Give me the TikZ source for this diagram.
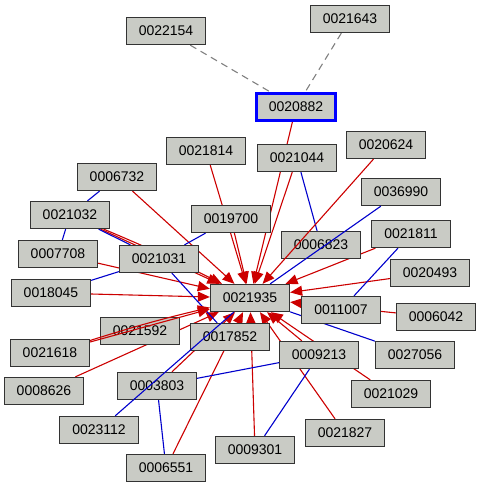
\documentclass[tikz,border=0pt]{standalone}
\usepackage{fontspec}
\setmainfont{Liberation Sans}
\usetikzlibrary{arrows.meta,backgrounds}
\definecolor{nodegray}{HTML}{C9CBC5}
\definecolor{edgered}{HTML}{CC0000}
\definecolor{edgeblue}{HTML}{0000CC}
\definecolor{hiblue}{HTML}{0000FF}

\begin{document}
\begin{tikzpicture}[x=1pt, y=-1pt,
  every node/.style={font=\fontsize{14}{16}\selectfont},
  box/.style={rectangle, draw=black!80, line width=1.3pt, fill=nodegray,
              minimum width=79pt, minimum height=27pt, inner sep=0pt},
  focus/.style={box, draw=hiblue, line width=2.4pt},
  arr/.style={-{Triangle[length=12pt,width=10pt]}, line width=1.1pt, edgered},
  link/.style={line width=1.1pt, edgeblue},
  faint/.style={dash pattern=on 7pt off 5pt, line width=1.1pt, gray},
]
\useasboundingbox (0,0) rectangle (481,489);

% nodes
\node[box] (n22154) at (166,31) {0022154};
\node[box] (n21643) at (350,19) {0021643};
\node[focus] (n20882) at (296,107) {0020882};
\node[box] (n21814) at (206,151) {0021814};
\node[box] (n21044) at (297,158) {0021044};
\node[box] (n20624) at (386,145) {0020624};
\node[box] (n06732) at (117,177) {0006732};
\node[box] (n36990) at (401,192) {0036990};
\node[box] (n21032) at (70,215) {0021032};
\node[box] (n19700) at (231,219) {0019700};
\node[box] (n06823) at (321,245) {0006823};
\node[box] (n21811) at (411,234) {0021811};
\node[box] (n07708) at (58,254) {0007708};
\node[box] (n21031) at (159,259) {0021031};
\node[box] (n20493) at (430,273) {0020493};
\node[box] (n18045) at (51,293) {0018045};
\node[box] (n21935) at (250,298) {0021935};
\node[box] (n11007) at (341,310) {0011007};
\node[box] (n06042) at (436,317) {0006042};
\node[box] (n21592) at (140,331) {0021592};
\node[box] (n17852) at (230,337) {0017852};
\node[box] (n21618) at (50,353) {0021618};
\node[box] (n09213) at (319,355) {0009213};
\node[box] (n27056) at (415,355) {0027056};
\node[box] (n08626) at (44,391) {0008626};
\node[box] (n03803) at (157,386) {0003803};
\node[box] (n21029) at (391,394) {0021029};
\node[box] (n23112) at (99,430) {0023112};
\node[box] (n21827) at (345,433) {0021827};
\node[box] (n09301) at (255,450) {0009301};
\node[box] (n06551) at (166,468) {0006551};

% edges under the boxes
\begin{scope}[on background layer]
\draw[faint] (n22154) -- (n20882);
\draw[faint] (n21643) -- (n20882);

\draw[arr] (n20882) -- (n21935);
\draw[arr] (n21814) -- (n21935);
\draw[arr] (n21044) -- (n21935);
\draw[arr] (n06732) -- (n21935);
\draw[arr] (n21032) -- (n21935);
\draw[arr] (n21032) to[bend left=2] (n21935);
\draw[arr] (n19700) -- (n21935);
\draw[arr] (n07708) -- (n21935);
\draw[arr] (n18045) -- (n21935);
\draw[arr] (n21811) -- (n21935);
\draw[arr] (n20493) -- (n21935);
\draw[arr] (n06042) -- (n21935);
\draw[arr] (n08626) -- (n21935);
\draw[arr] (n03803) -- (n21935);
\draw[arr] (n06551) -- (n21935);
\draw[arr] (n09301) -- (n21935);
\draw[arr] (n09213) -- (n21935);
\draw[arr] (n21029) -- (n21935);
\draw[arr] (n21827) -- (n21935);

\draw[link] (n21044) -- (n06823);
\draw[link] (n21811) -- (n11007);
\draw[link] (n06732) -- (n21032);
\draw[link] (n21032) -- (n07708);
\draw[link] (n21032) -- (n21031);
\draw[link] (n18045) -- (n21031);
\draw[link] (n19700) -- (n21031);
\draw[link] (n21031) -- (n17852);
\draw[link] (n21935) -- (n27056);
\draw[link] (n03803) -- (n09213);
\draw[link] (n03803) -- (n06551);
\draw[link] (n09213) -- (n09301);
\end{scope}

% edges over some boxes
\draw[arr] (n20624) -- (n21935);
\draw[link] (n36990) -- (n21935);
\draw[link] (n23112) -- (n21935);
\draw[arr] (n21618) -- (n21935);
\draw[arr] (n21618) to[bend left=2] (n21935);

\end{tikzpicture}
\end{document}
